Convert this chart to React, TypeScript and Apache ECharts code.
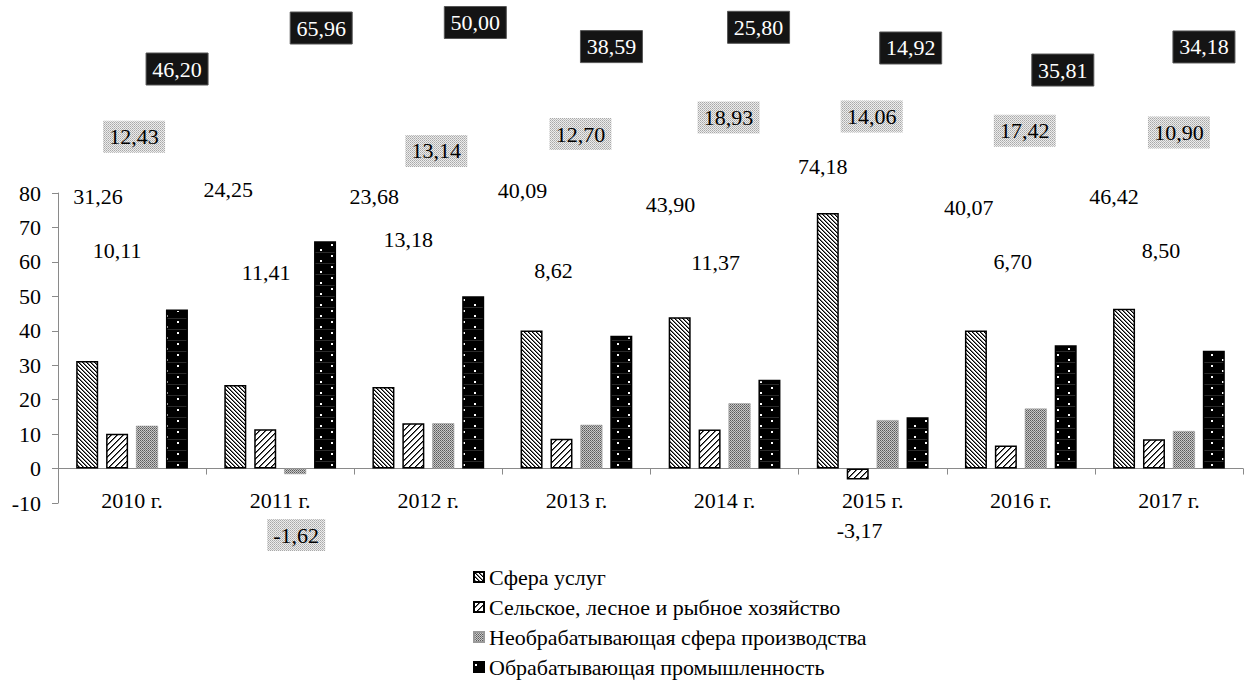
import React, { useEffect, useRef } from 'react';
import * as echarts from 'echarts';

const categories = ['2010 г.', '2011 г.', '2012 г.', '2013 г.', '2014 г.', '2015 г.', '2016 г.', '2017 г.'];
const seriesNames = [
  'Сфера услуг',
  'Сельское, лесное и рыбное хозяйство',
  'Необрабатывающая сфера производства',
  'Обрабатывающая промышленность',
];
const services = [31.26, 24.25, 23.68, 40.09, 43.9, 74.18, 40.07, 46.42];
const agriculture = [10.11, 11.41, 13.18, 8.62, 11.37, -3.17, 6.7, 8.5];
const nonManufacturing = [12.43, -1.62, 13.14, 12.7, 18.93, 14.06, 17.42, 10.9];
const manufacturing = [46.2, 65.96, 50.0, 38.59, 25.8, 14.92, 35.81, 34.18];
const seriesValues = [services, agriculture, nonManufacturing, manufacturing];

const yMin = -10;
const yMax = 80;
const yInterval = 10;

// Label anchors: [x shift in px from category centre, y in axis units]
const labelLayout = [
  [[-34, 79.1], [-52, 80.9], [-54, 79.1], [-54, 80.6], [-54, 76.8], [-50, 87.8], [-52, 75.9], [-55, 79.1]],
  [[-15, 63.4], [-14, 57.0], [-20, 66.6], [-23, 57.6], [-9, 59.7], [-13, -18.1], [-8, 60.0], [-8, 63.4]],
  [[2, 96.3], [16, -19.3], [8, 92.2], [4, 97.1], [4, 101.9], [-1, 102.2], [4, 98.1], [10, 97.6]],
  [[45, 116.0], [41, 127.9], [47, 129.5], [35, 122.5], [34, 128.1], [38, 122.1], [42, 115.7], [35, 122.4]],
];

const FONT = 'Liberation Serif';
const FS = 22;

function makePattern(w: number, h: number, bg: string, px: Array<[number, number, string]>) {
  const c = document.createElement('canvas');
  c.width = w;
  c.height = h;
  const ctx = c.getContext('2d')!;
  ctx.fillStyle = bg;
  ctx.fillRect(0, 0, w, h);
  px.forEach(([x, y, col]) => {
    ctx.fillStyle = col;
    ctx.fillRect(x, y, 1, 1);
  });
  return { image: c, repeat: 'repeat', imageWidth: w, imageHeight: h } as any;
}

function fmt(v: number) {
  return v.toFixed(2).replace('.', ',');
}

export default function App() {
  const ref = useRef<HTMLDivElement>(null);
  useEffect(() => {
    if (!ref.current) return;
    const chart = echarts.init(ref.current, null, { renderer: 'svg' });

    const p1: Array<[number, number, string]> = [];
    for (let i = 0; i < 4; i++) {
      p1.push([i, i, '#000']);
      p1.push([(i + 1) % 4, i, '#777']);
    }
    const pat1 = makePattern(4, 4, '#fff', p1);
    const p2: Array<[number, number, string]> = [];
    for (let i = 0; i < 6; i++) {
      p2.push([5 - i, i, '#000']);
      p2.push([(6 - i) % 6, i, '#666']);
    }
    const pat2 = makePattern(6, 6, '#fff', p2);
    const pat3 = makePattern(2, 2, '#c8c8c8', [[0, 0, '#5a5a5a'], [1, 1, '#7a7a7a']]);
    const p4: Array<[number, number, string]> = [];
    [[1, 2], [12, 7]].forEach(([x, y]) => {
      p4.push([x, y, '#fff'], [x + 1, y, '#fff'], [x, y + 1, '#fff'], [x + 1, y + 1, '#fff']);
    });
    for (let x = 0; x < 22; x++) p4.push([x, 10, '#2a2a2a']);
    const pat4 = makePattern(22, 11, '#000', p4);
    const patLabel = makePattern(2, 2, '#ececec', [[0, 0, '#a8a8a8'], [1, 1, '#bdbdbd']]);

    const fills = [pat1, pat2, pat3, pat4];
    const borders = ['#000', '#000', '#9a9a9a', '#000'];
    const bws = [1.5, 1.5, 0.5, 1.5];

    const option: any = {
      animation: false,
      backgroundColor: '#fff',
      textStyle: { fontFamily: FONT },
      grid: { left: 58, right: 7, top: 193, bottom: 185, containLabel: false },
      legend: {
        orient: 'vertical',
        left: 473,
        top: 566,
        padding: 0,
        itemWidth: 10,
        itemHeight: 10,
        itemGap: 8,
        icon: 'rect',
        textStyle: { fontFamily: FONT, fontSize: 22, color: '#000', lineHeight: 22 },
        data: seriesNames,
      },
      xAxis: {
        type: 'category',
        data: categories,
        axisLine: { show: true, onZero: true, lineStyle: { color: '#8a8a8a', width: 1 } },
        axisTick: { show: true, length: 6, interval: 0, lineStyle: { color: '#8a8a8a' } },
        axisLabel: { fontFamily: FONT, fontSize: FS, color: '#000', margin: -14, interval: 0 },
        splitLine: { show: false },
      },
      yAxis: {
        type: 'value',
        min: yMin,
        max: yMax,
        interval: yInterval,
        axisLine: { show: true, lineStyle: { color: '#8a8a8a', width: 1 } },
        axisTick: { show: true, length: 6, lineStyle: { color: '#8a8a8a' } },
        axisLabel: { fontFamily: FONT, fontSize: FS, color: '#000', margin: 17 },
        splitLine: { show: false },
      },
      series: seriesValues.map((vals, s) => ({
        name: seriesNames[s],
        type: 'bar',
        data: vals,
        barWidth: 22,
        barGap: '36%',
        itemStyle: { color: fills[s], borderColor: borders[s], borderWidth: bws[s] },
        emphasis: { disabled: true },
        label: { show: false },
      })),
    };
    chart.setOption(option);

    const mctx = document.createElement('canvas').getContext('2d')!;
    mctx.font = `${FS}px "Liberation Serif"`;
    const elements: any[] = [];
    labelLayout.forEach((arr, s) => {
      arr.forEach(([dx, yv], i) => {
        const pt = chart.convertToPixel({ gridIndex: 0 }, [i, yv]) as number[];
        const cx = pt[0] + dx;
        const cy = pt[1];
        const text = fmt(seriesValues[s][i]);
        const tw = mctx.measureText(text).width;
        const bw = Math.round(tw + 12);
        const bh = 32;
        if (s >= 2) {
          elements.push({
            type: 'rect',
            shape: { x: cx - bw / 2, y: cy - bh / 2, width: bw, height: bh },
            style: s === 2 ? { fill: patLabel } : { fill: '#141414', stroke: '#555', lineWidth: 1 },
            silent: true,
            z: 10,
          });
        }
        elements.push({
          type: 'text',
          x: cx,
          y: cy,
          style: {
            text,
            fontFamily: FONT,
            fontSize: FS,
            fill: s === 3 ? '#fff' : '#000',
            align: 'center',
            verticalAlign: 'middle',
          },
          silent: true,
          z: 11,
        });
      });
    });
    chart.setOption({ graphic: elements });

    return () => chart.dispose();
  }, []);
  return (
    <div
      ref={ref}
      style={{ position: 'fixed', left: 0, top: 0, width: 1250, height: 688, background: '#fff' }}
    />
  );
}
